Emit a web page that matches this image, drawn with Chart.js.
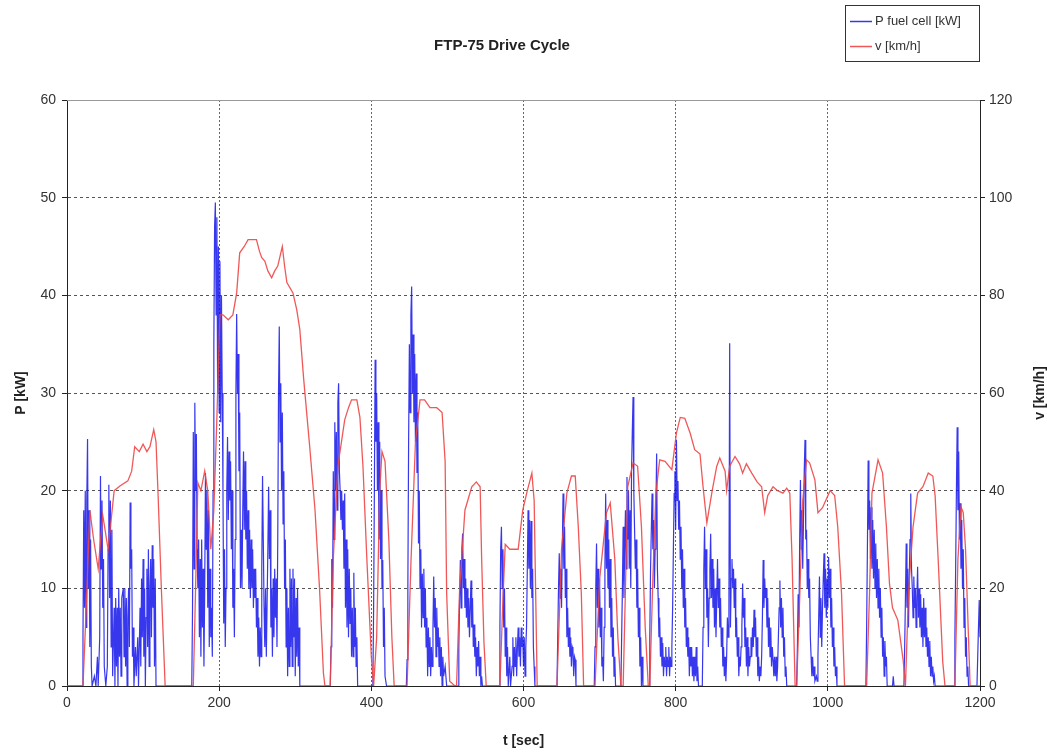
<!DOCTYPE html>
<html>
<head>
<meta charset="utf-8">
<title>FTP-75 Drive Cycle</title>
<script src="https://cdn.jsdelivr.net/npm/chart.js@4.4.1/dist/chart.umd.min.js"></script>
<style>
  html, body { margin: 0; padding: 0; background: #fff; }
  #wrap { position: relative; width: 1047px; height: 752px; }
</style>
</head>
<body>
<div id="wrap"><canvas id="chart"></canvas></div>
<script>
// labels
const chartTitle = 'FTP-75 Drive Cycle';
const powerLabel = 'P fuel cell [kW]';
const speedLabel = 'v [km/h]';
const timeAxisTitle = 't [sec]';
const powerAxisTitle = 'P [kW]';
const speedAxisTitle = 'v [km/h]';

// tick values
const timeTicks = [0, 200, 400, 600, 800, 1000, 1200];
const powerTicks = [0, 10, 20, 30, 40, 50, 60];
const speedTicks = [0, 20, 40, 60, 80, 100, 120];

// vehicle speed [t sec, v km/h]
const speedPoints = [
  [0,0],[21,0],[25,15],[30,36],[35,30],[41,24],[47,35],[54,28],[62,40],[70,41],[80,42],[85,44],[89,49],
  [95,48],[100,49.5],[105,48],[109,49],[114,52.5],[117,50],[120,38],[124,20],[129,0],
  [166,0],[169,20],[172,41.6],[176,40],[181,44],[185,40],[189,28],[193,36],[197,55],[201,76],[205,76],
  [212,75],[218,76],[223,80.5],[227,88.7],[233,90],[238,91.4],[249,91.4],[253,89],[256,87.7],[260,87],
  [264,85],[269,83.6],[273,85],[277,86],[283,90],[286,86],[289,82.6],[297,80.5],[302,77],[306,73],
  [311,63],[319,49],[326,36],[332,19.7],[337,2.7],[339,0],
  [346,0],[350,26],[356,45],[365,54.5],[370,57],[374,58.6],[381,58.6],[385,55],[389,45],[394,26.4],[400,6],[403,0],
  [407,10],[411,40],[414,48],[418,46],[423,30],[427,10],[430,0],
  [447,0],[452,25],[458,50],[464,58.6],[470,58.6],[477,57],[486,57],[493,56],[497,46],[499,19],[503,1],[510,0],
  [512,0],[516,19.7],[523,36],[532,40.8],[538,41.8],[543,40.8],[545,26],[548,9],[551,0],
  [569,0],[573,18],[576,29],[582,28],[588,28],[593,28],[599,36],[605,40],[611,43.6],[614,38],[618,0],
  [644,0],[650,28],[657,39.5],[663,43],[668,43],[672,32.6],[676,19],[679,0],
  [694,0],[700,21.7],[709,35.4],[714,37.5],[720,26],[724,10],[728,0],
  [731,0],[734,20],[737,40.8],[744,45.7],[750,45],[755,32.6],[760,12],[764,0],
  [766,0],[770,22],[774,39.5],[779,46.3],[786,46],[795,44.3],[801,51.8],[806,55],[812,54.8],[819,51.8],
  [825,48.4],[832,47.5],[836,40.8],[841,33.4],[848,40],[854,45],[858,46.7],[865,44],[867,40],[871,45],
  [878,47],[884,45.5],[888,43.6],[893,45.5],[900,43.6],[907,41.8],[913,40.8],[917,35.5],[921,39],[928,40.8],
  [934,40],[941,39.5],[946,40.5],[950,39.5],[953,26],[957,0],
  [959,0],[963,18],[967,38],[972,46.3],[976,45.7],[983,42.2],[987,35.5],[993,36.5],[1003,40],[1009,39],
  [1013,32.6],[1018,19],[1022,0],
  [1051,0],[1055,20],[1058,39.5],[1066,46.3],[1072,43.6],[1077,32.6],[1081,21],[1085,16],[1092,13.5],[1099,5.3],[1102,0],
  [1106,19],[1112,32.6],[1118,39.5],[1125,40.8],[1132,43.6],[1138,43],[1141,39],[1145,26],[1151,5],[1154,0],
  [1167,0],[1171,26],[1175,36.7],[1178,35.5],[1181,28],[1187,0],[1200,0]
];

// fuel cell power [t sec, P kW]
const powerPoints = [
  [0,0],[20,0],[21,5],[22,18],[23,8],[24,20],[25,6],[26,19],[27,25.3],[28,10],[29,18],[30,4],[31,15],[32,2],[33,0],
  [36,1],[38,0],[40,3],[41,0],[43,5],[44,21.5],[45,12],[46,19],[47,8],[48,13],[49,2],[51,0],[53,2],[54,14],
  [55,20.6],[56,9],[57,19],[58,4],[59,16],[60,1],[62,8],[63,0],[64,9],[65,2],[66,8],[67,0],[68,10],[69,3],
  [70,8],[71,1],[72,9],[74,10],[75,3],[76,10],[77,2],[78,9],[79,0],[80,7],[81,10],[82,4],[83,18.8],[84,12],
  [85,14],[86,3],[87,6],[88,0],[90,4],[91,1],[93,5],[94,0],[96,8],[97,2],[98,11],[99,5],[100,13],[101,3],
  [102,10],[103,0],[104,7],[105,12],[106,4],[107,14],[108,2],[109,10],[110,13],[111,5],[112,14.4],[113,8],
  [114,13],[115,2],[116,11],[117,0],[120,0],
  [164,0],[165,8],[166,26],[167,12],[168,29],[169,20],[170,25.8],[171,14],[172,10],[173,15],[174,5],[175,13],
  [176,3],[177,15],[178,6],[179,12],[180,2],[181,10],[182,21.8],[183,14],[184,20],[185,8],[186,18],[187,4],
  [188,12],[189,5],[190,8],[191,3],[192,20],[193,35],[194,47],[195,49.5],[196,38],[197,48],[198,30],[199,45],
  [200,28],[201,43.5],[202,27],[203,40],[204,30],[205,20],[206,6.4],[207,14],[208,4],[209,10],[210,20],
  [211,25.5],[212,17],[213,24],[214,19],[215,23],[216,14],[217,20],[218,8],[219,12],[220,5],[221,15],[222,30],
  [223,38.1],[224,30],[225,34],[226,22],[227,28],[228,10],[229,16],[230,10],[231,18],[232,24],[233,16],
  [234,23],[235,15],[236,20],[237,12],[238,18],[239,10],[240,16],[241,9],[242,15],[243,10],[244,14],[245,8],
  [246,12],[247,9],[248,12],[249,6],[250,9],[251,3],[252,7],[253,2],[254,6],[255,3],[256,12],[257,21.5],
  [258,15],[259,8],[260,4],[261,10],[262,3],[264,14],[265,20.4],[266,13],[267,18],[268,6],[269,10],[270,3],
  [271,11],[272,5],[273,12],[274,7],[275,11],[276,4],[277,15],[278,30],[279,36.8],[280,25],[281,31],[282,20],
  [283,28],[284,16.6],[285,22],[286,10],[287,15],[288,4],[289,10],[290,1],[291,8],[292,2],[293,12],[294,4],
  [295,11],[296,2],[297,12],[298,5],[299,11],[300,1],[301,9],[302,3],[303,10],[304,2],[305,6],[306,0],
  [346,0],[347,4],[348,13],[349,8],[350,22],[351,15],[352,27],[353,20],[354,26],[355,18],[356,29],[357,31],
  [358,22],[359,20],[360,17],[361,20],[362,16],[363,19],[364,12],[365,19.7],[366,8],[367,15],[368,6],[369,14],
  [370,5],[371,12],[372,6.4],[373,10],[374,3],[375,8],[376,3],[377,11.6],[378,4],[379,8],[380,2],[381,5],[382,0],
  [402,0],[403,8],[404,20],[405,33.4],[406,25],[407,30],[408,20],[409,27],[410,15],[411,25],[412,13],[413,20],
  [414,10],[415,12.9],[416,4],[417,8],[418,1],[420,0],
  [446,0],[447,2.7],[448,10],[449,25],[450,35],[451,28],[452,38],[453,40.9],[454,30],[455,36],[456,27],[457,34],
  [458,25],[459,32],[460,21.8],[461,28],[462,14.6],[463,20],[464,10],[465,14],[466,6],[467,11.5],[468,7],
  [469,12],[470,6],[471,10],[472,4],[473,7],[474,1],[475,6],[476,2],[477,5],[478,1],[479,4],[480,2],[481,6],
  [482,11.2],[483,6],[484,9],[485,3],[486,8],[487,4],[488,6],[489,2],[490,5],[491,1],[492,4],[493,0],[494,3],
  [495,1],[497,2],[499,0],
  [514,0],[515,4],[516,9],[517,12.9],[518,8],[519,14],[520,15.6],[521,10],[522,13],[523,8],[524,11],[525,7],
  [526,10],[527,6],[528,9],[529,5],[530,8],[531,10.8],[532,6],[533,9],[534,4],[535,6.3],[536,3],[537,5],[538,1],
  [539,4],[540,2],[541,4.6],[542,1],[543,3],[544,0],[545,1],[546,0],
  [568,0],[569,6],[570,14],[571,16.3],[572,10],[573,14],[574,6],[575,10],[576,3],[577,6],[578,1],[579,4],[580,0],
  [582,3],[583,0],[585,2],[586,5],[587,1],[588,4],[589,2],[590,5],[591,1],[592,4],[593,6],[594,3],[595,5],
  [596,2],[597,6],[598,4],[599,5],[600,2],[601,5],[602,1],[603,4],[604,6],[605,12],[606,18],[607,12],[608,17],
  [609,10],[610,16.9],[611,9],[612,12],[613,4],[614,2],[615,0],
  [644,0],[645,5],[646,10],[647,13.6],[648,9],[649,12],[650,8],[651,14],[652,19.7],[653,12],[654,16.3],[655,9],
  [656,12],[657,5],[658,8],[659,4],[660,6],[661,3],[662,5],[663,2],[664,4],[665,3.7],[666,1],[667,3],[668,2.7],
  [669,0],
  [693,0],[694,4],[695,10],[696,14.6],[697,8],[698,12],[699,6],[700,11],[701,5],[702,8],[703,2],[704,3],
  [705,0.5],[706,6],[707,12],[708,19.7],[709,12],[710,17],[711,10],[712,15],[713,8],[714,13],[715,5],[716,9],
  [717,3],[718,6],[719,1],[720,3],[721,0],
  [728,0],[729,5],[730,10],[731,16.3],[732,9],[733,14],[734,18],[735,12],[736,21.4],[737,15],[738,20],[739,12],
  [740,18],[741,10],[742,22],[743,26],[744,29.6],[745,20],[746,16],[747,12],[748,15],[749,8],[750,12],[751,5],
  [752,8],[753,2],[754,5],[755,0],[756,3],[757,0],
  [765,0],[766,5],[767,12],[768,16],[769,19.7],[770,14],[771,17],[772,10],[773,14],[774,18],[775,23.8],[776,12],
  [777,9],[778,5],[779,7],[780,3],[781,5],[782,2],[783,4.4],[784,1],[785,3],[786,2],[787,4],[788,1],[789,3],
  [790,2],[791,4],[792,1],[793,3],[794,2],[795,4],[796,8],[797,14],[798,19.7],[799,22],[800,16],[801,25.2],
  [802,19],[803,21],[804,16],[805,19],[806,13],[807,16.3],[808,10],[809,14],[810,8],[811,12],[812,6],[813,9],
  [814,4],[815,6],[816,3],[817,5],[818,1],[819,4],[820,2],[821,4],[822,1],[823,3],[824,0.5],[825,3],[826,1],
  [827,4],[828,0.5],[829,2],[830,0],
  [835,0],[836,6],[837,12],[838,16.3],[839,10],[840,14],[841,7],[842,10],[843,4],[844,9],[845,12],[846,15.6],
  [847,9],[848,13],[849,8],[850,12],[851,6],[852,10],[853,5],[854,9],[855,13],[856,8],[857,11],[858,6],[859,9],
  [860,4],[861,6],[862,2],[863,4],[864,1],[865,3],[866,0.5],[867,3],[868,7],[869,5],[870,8],[871,35.1],[872,6],
  [873,11],[874,13],[875,10],[876,12],[877,8],[878,11],[879,5],[880,7],[881,3],[882,5],[883,1],[884,3],[885,2],
  [886,4],[887,6],[888,10.5],[889,7],[890,9],[891,4],[892,6],[893,2],[894,5],[895,1],[896,4],[897,2],[898,3],
  [899,5],[900,3],[901,6],[902,4],[903,7.8],[904,5],[905,7],[906,3],[907,5],[908,1],[909,3],[910,0.5],[911,2],
  [912,1],[913,3],[914,7],[915,12.9],[916,8],[917,11],[918,9],[919,10],[920,6],[921,9],[922,4],[923,7],[924,3],
  [925,6],[926,2],[927,4],[928,2.7],[929,1],[930,3],[931,1],[932,3],[933,0.5],[934,2],[935,5],[936,8],[937,10.8],
  [938,6],[939,9],[940,5],[941,8],[942,3],[943,5],[944,1],[945,2],[946,0],
  [959,0],[960,4],[961,9.4],[962,6],[963,15],[964,21.1],[965,14],[966,18],[967,12],[968,17],[969,22],[970,25.2],
  [971,15],[972,16],[973,10],[974,13],[975,9],[976,11],[977,5],[978,3],[979,1],[980,3],[981,1],[982,2],[983,0.5],
  [985,1],[986,0.5],[987,3],[988,7],[989,11.2],[990,5],[991,9],[992,4],[993,8],[994,11],[995,13.6],[996,8],
  [997,12],[998,7],[999,11],[1000,8],[1001,13.2],[1002,9],[1003,12],[1004,6],[1005,9],[1006,4],[1007,6],[1008,2],
  [1009,4],[1010,1],[1011,2],[1012,0],
  [1050,0],[1051,6],[1052,14],[1053,23.1],[1054,16],[1055,19],[1056,13],[1057,18.3],[1058,12],[1059,17],[1060,11],
  [1061,16],[1062,10],[1063,14.6],[1064,9],[1065,13],[1066,8],[1067,12],[1068,7],[1069,10],[1070,5],[1071,8],
  [1072,3],[1073,5],[1074,1],[1075,4.6],[1076,2],[1077,3],[1078,0],[1085,0],[1086,1],[1087,0],
  [1100,0],[1101,4],[1102,9],[1103,14.6],[1104,8],[1105,12],[1106,6],[1107,11],[1108,15],[1109,19.7],[1110,12],
  [1111,10],[1112,7],[1113,11.2],[1114,8],[1115,10],[1116,6],[1117,9],[1118,12.2],[1119,7],[1120,10],[1121,6],
  [1122,9.4],[1123,5],[1124,8],[1125,4],[1126,9],[1127,5],[1128,8],[1129,4],[1130,6],[1131,3],[1132,5],[1133,2],
  [1134,4.6],[1135,1],[1136,3],[1137,1],[1138,2],[1139,0.5],[1140,1],[1141,0],
  [1166,0],[1167,5],[1168,12],[1169,20],[1170,26.5],[1171,18],[1172,24],[1173,15],[1174,18.7],[1175,12],[1176,17],
  [1177,10],[1178,14],[1179,6],[1180,9],[1181,3],[1182,5],[1183,1],[1184,2],[1185,0],
  [1196,0],[1197,3],[1198,6],[1199,8.8],[1200,5]
];

const FONT = '"Liberation Sans", Arial, sans-serif';
const BLUE = 'rgba(20, 20, 235, 0.85)';
const RED = 'rgba(238, 70, 70, 0.9)';

// title, legend box, right axis title, top frame line
const decor = {
  id: 'decor',
  afterDraw(chart) {
    const { ctx, chartArea: a } = chart;
    ctx.save();
    ctx.strokeStyle = '#999';
    ctx.lineWidth = 1;
    ctx.beginPath();
    ctx.moveTo(a.left, a.top + 0.5);
    ctx.lineTo(a.right, a.top + 0.5);
    ctx.stroke();

    ctx.fillStyle = '#222';
    ctx.textAlign = 'center';
    ctx.textBaseline = 'middle';
    ctx.font = 'bold 15px ' + FONT;
    ctx.fillText(chartTitle, 502, 46);

    ctx.save();
    ctx.translate(1040, (a.top + a.bottom) / 2);
    ctx.rotate(-Math.PI / 2);
    ctx.font = 'bold 14px ' + FONT;
    ctx.fillText(speedAxisTitle, 0, 0);
    ctx.restore();

    // legend
    const bx = 845, by = 5, bw = 134, bh = 56;
    ctx.strokeStyle = '#333';
    ctx.strokeRect(bx + 0.5, by + 0.5, bw, bh);
    ctx.font = '13px ' + FONT;
    ctx.textAlign = 'left';
    chart.data.datasets.forEach((ds, i) => {
      const y = by + 16 + i * 25;
      ctx.strokeStyle = ds.borderColor;
      ctx.lineWidth = 1.5;
      ctx.beginPath();
      ctx.moveTo(bx + 5, y + 0.5);
      ctx.lineTo(bx + 27, y + 0.5);
      ctx.stroke();
      ctx.fillStyle = '#333';
      ctx.fillText(ds.label, bx + 30, y);
    });
    ctx.restore();
  }
};

const toXY = pts => pts.map(([x, y]) => ({ x, y }));
const fixTicks = list => scale => { scale.ticks = list.map(v => ({ value: v })); };
const plain = v => String(v);

new Chart(document.getElementById('chart'), {
  type: 'line',
  data: {
    datasets: [
      {
        label: powerLabel,
        data: toXY(powerPoints),
        yAxisID: 'y',
        borderColor: BLUE,
        borderWidth: 1.2,
        pointRadius: 0,
        tension: 0,
        order: 1
      },
      {
        label: speedLabel,
        data: toXY(speedPoints),
        yAxisID: 'y1',
        borderColor: RED,
        borderWidth: 1.3,
        pointRadius: 0,
        tension: 0,
        order: 0
      }
    ]
  },
  options: {
    responsive: true,
    maintainAspectRatio: false,
    animation: false,
    layout: { padding: { top: 100, left: 0, right: 0, bottom: 0 } },
    plugins: {
      legend: { display: false },
      title: { display: false },
      tooltip: { enabled: false }
    },
    scales: {
      x: {
        type: 'linear',
        min: 0,
        max: 1200,
        afterBuildTicks: fixTicks(timeTicks),
        afterFit: s => { s.height = 66; },
        grid: {
          color: c => (c.tick && c.tick.value === 1200 ? 'rgba(0,0,0,0)' : '#666'),
          tickColor: '#222',
          tickLength: 5,
          lineWidth: 1
        },
        border: { color: '#222', width: 1, dash: [2, 2] },
        ticks: { color: '#333', font: { family: FONT, size: 14 }, padding: 4, maxRotation: 0, callback: plain },
        title: { display: true, text: timeAxisTitle, color: '#222', font: { family: FONT, size: 14, weight: 'bold' }, padding: { top: 2, bottom: 2 } }
      },
      y: {
        position: 'left',
        min: 0,
        max: 60,
        afterBuildTicks: fixTicks(powerTicks),
        afterFit: s => { s.width = 67; },
        grid: {
          color: c => (c.tick && c.tick.value === 60 ? 'rgba(0,0,0,0)' : '#555'),
          tickColor: '#222',
          tickLength: 5,
          lineWidth: 1
        },
        border: { color: '#222', width: 1, dash: [3, 3] },
        ticks: { color: '#333', font: { family: FONT, size: 14 }, padding: 6, callback: plain },
        title: { display: true, text: powerAxisTitle, color: '#222', font: { family: FONT, size: 14, weight: 'bold' }, padding: { top: 13, bottom: 13 } }
      },
      y1: {
        position: 'right',
        min: 0,
        max: 120,
        afterBuildTicks: fixTicks(speedTicks),
        afterFit: s => { s.width = 67; },
        grid: { drawOnChartArea: false, tickColor: '#222', tickLength: 5 },
        border: { color: '#222', width: 1 },
        ticks: { color: '#333', font: { family: FONT, size: 14 }, padding: 4, callback: plain }
      }
    }
  },
  plugins: [decor]
});
</script>
</body>
</html>
